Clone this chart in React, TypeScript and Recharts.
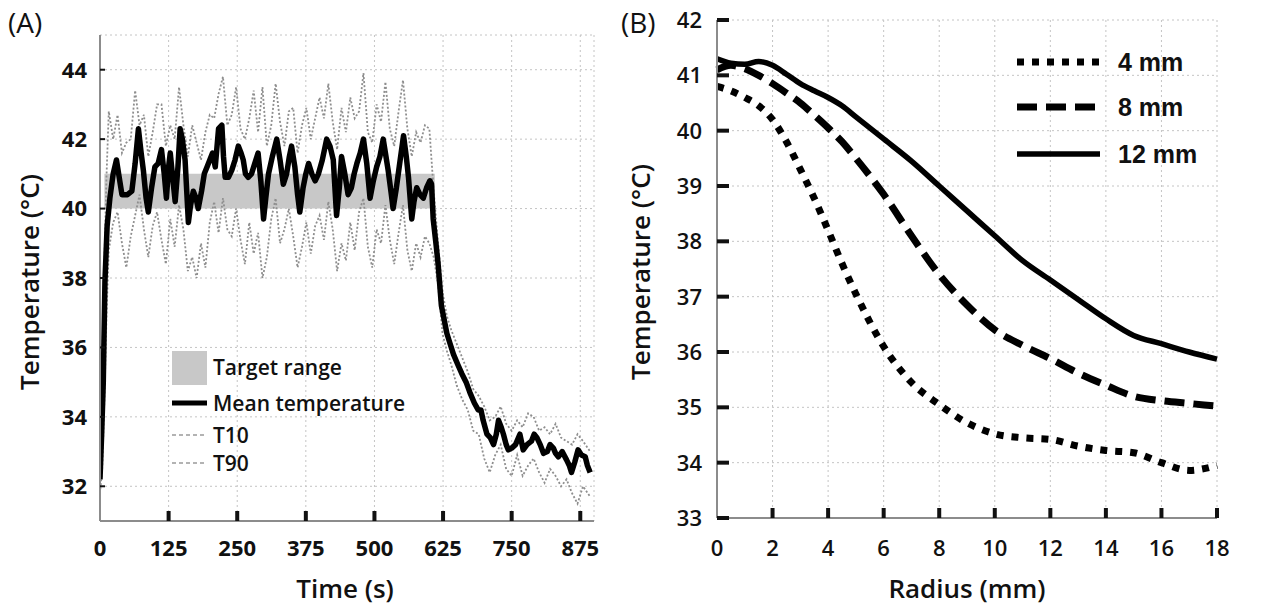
import { LineChart, Line, XAxis, YAxis, CartesianGrid, ReferenceArea } from "recharts";

const FONT = "'Open Sans', 'DejaVu Sans', sans-serif";

// ---- panel A: temperature over time ----
const TIME_TICKS = [0, 125, 250, 375, 500, 625, 750, 875];
const TEMP_TICKS_A = [32, 34, 36, 38, 40, 42, 44];
const TARGET_RANGE = [40, 41];
const TARGET_SPAN = [8, 610];

// [time (s), temperature (°C)]
const MEAN_TEMP: [number, number][] = [
  [0, 32.2], [3, 33.5], [6, 35.0], [9, 37.9], [13, 39.5], [18, 40.3], [24, 41.0], [30, 41.4],
  [35, 40.9], [40, 40.4], [50, 40.4], [58, 40.5], [64, 41.3], [70, 42.3], [75, 41.6], [79, 41.1],
  [84, 40.3], [88, 39.9], [94, 40.6], [100, 41.2], [106, 41.3], [112, 41.7], [117, 41.0], [121, 40.3],
  [125, 41.2], [128, 41.6], [133, 40.8], [137, 40.2], [142, 41.2], [146, 42.3], [150, 42.0], [155, 41.4],
  [158, 40.5], [161, 39.6], [165, 40.1], [170, 40.5], [175, 40.3], [179, 40.0], [185, 40.5], [190, 41.0],
  [195, 41.2], [200, 41.4], [205, 41.6], [210, 41.2], [216, 42.3], [222, 42.4], [225, 41.5], [228, 40.9],
  [234, 40.9], [240, 41.1], [246, 41.4], [252, 41.8], [257, 41.6], [261, 41.4], [265, 41.0], [270, 40.9],
  [276, 41.0], [282, 41.3], [288, 41.6], [293, 40.8], [298, 39.7], [302, 40.3], [307, 41.0], [314, 41.5],
  [322, 42.0], [328, 41.4], [334, 40.7], [340, 41.0], [345, 41.5], [349, 41.8], [355, 41.2], [360, 40.4],
  [364, 39.9], [370, 40.6], [375, 41.0], [380, 41.3], [386, 41.0], [392, 40.8], [398, 41.0], [405, 41.4],
  [413, 42.0], [419, 41.8], [425, 41.4], [431, 39.8], [436, 40.6], [440, 41.5], [446, 41.0], [452, 40.4],
  [458, 40.6], [463, 41.0], [468, 41.3], [474, 41.6], [480, 42.0], [486, 41.3], [492, 40.3], [498, 40.8],
  [504, 41.2], [510, 41.5], [516, 42.0], [520, 41.6], [525, 41.1], [530, 40.5], [534, 40.0], [540, 40.6],
  [546, 41.3], [553, 42.1], [558, 41.5], [562, 40.9], [568, 39.7], [572, 40.2], [577, 40.6], [583, 40.4],
  [589, 40.3], [595, 40.6], [601, 40.8], [604, 40.7], [607, 39.7], [612, 39.0], [616, 38.4], [622, 37.2],
  [627, 36.8], [632, 36.4], [638, 36.1], [644, 35.8], [652, 35.5], [659, 35.25], [667, 35.0], [674, 34.7],
  [682, 34.4], [689, 34.2], [694, 34.2], [698, 33.9], [705, 33.5], [711, 33.4], [717, 33.2], [722, 33.5],
  [726, 33.9], [731, 33.7], [735, 33.5], [740, 33.2], [744, 33.05], [750, 33.1], [757, 33.2], [765, 33.5],
  [771, 33.05], [778, 33.2], [786, 33.3], [791, 33.5], [796, 33.4], [802, 33.2], [808, 32.95], [815, 33.0],
  [820, 33.2], [826, 33.1], [830, 32.95], [835, 32.85], [842, 33.0], [850, 32.76], [855, 32.6], [859, 32.4],
  [865, 32.7], [871, 33.05], [877, 32.9], [884, 32.85], [888, 32.6], [893, 32.4],
];

const T90: [number, number][] = [
  [0, 32.6], [4, 35.5], [8, 38.5], [12, 41.0], [16, 42.8], [24, 42.0], [32, 42.7], [40, 41.6],
  [48, 41.9], [56, 42.0], [64, 43.4], [72, 42.4], [80, 42.7], [88, 41.5], [96, 42.2], [104, 43.0],
  [112, 43.0], [120, 41.8], [128, 42.4], [136, 42.0], [144, 43.5], [152, 42.4], [160, 41.5], [168, 42.4],
  [176, 41.9], [184, 41.4], [192, 42.2], [200, 42.7], [208, 42.6], [216, 43.3], [224, 43.8], [232, 42.4],
  [240, 42.7], [248, 43.5], [256, 42.3], [264, 42.0], [272, 42.6], [280, 43.4], [288, 42.2], [296, 43.5],
  [304, 41.8], [312, 42.4], [320, 43.6], [328, 42.5], [336, 41.8], [344, 42.8], [352, 42.9], [360, 41.6],
  [368, 42.4], [376, 42.9], [384, 42.0], [392, 42.6], [400, 43.2], [408, 42.6], [416, 43.6], [424, 42.5],
  [432, 41.7], [440, 42.9], [448, 42.2], [456, 43.2], [464, 42.6], [472, 42.8], [480, 43.9], [488, 42.2],
  [496, 41.9], [504, 43.0], [512, 42.5], [520, 43.65], [528, 42.3], [536, 41.8], [544, 42.8], [552, 43.7],
  [560, 42.3], [568, 41.5], [576, 42.2], [584, 41.9], [592, 42.4], [600, 42.3], [608, 40.5], [616, 39.0],
  [624, 37.6], [632, 36.9], [640, 36.5], [650, 36.1], [660, 35.7], [670, 35.3], [680, 34.8], [690, 34.6],
  [700, 34.3], [710, 33.9], [720, 34.0], [730, 34.3], [740, 33.8], [750, 33.6], [760, 33.9], [770, 33.7],
  [780, 34.1], [790, 34.0], [800, 33.6], [810, 33.7], [820, 33.5], [830, 33.8], [840, 33.4], [850, 33.3],
  [860, 33.2], [870, 33.5], [880, 33.3], [893, 33.0],
];

const T10: [number, number][] = [
  [0, 31.8], [4, 32.5], [8, 34.5], [12, 37.0], [16, 38.8], [24, 39.6], [32, 39.9], [40, 39.0],
  [48, 38.3], [56, 39.2], [64, 39.8], [72, 40.4], [80, 39.4], [88, 38.6], [96, 39.5], [104, 39.9],
  [112, 39.1], [120, 38.4], [128, 39.7], [136, 38.9], [144, 40.1], [152, 39.4], [160, 38.2], [168, 38.6],
  [176, 38.0], [184, 39.0], [192, 38.3], [200, 39.6], [208, 40.2], [216, 39.3], [224, 40.3], [232, 39.4],
  [240, 39.2], [248, 40.0], [256, 39.1], [264, 38.4], [272, 39.6], [280, 38.7], [288, 39.3], [296, 38.0],
  [304, 38.6], [312, 39.7], [320, 40.3], [328, 39.0], [336, 39.4], [344, 40.0], [352, 39.2], [360, 38.3],
  [368, 38.9], [376, 39.6], [384, 38.7], [392, 39.5], [400, 39.8], [408, 39.1], [416, 40.2], [424, 39.4],
  [432, 38.2], [440, 39.0], [448, 38.5], [456, 39.6], [464, 38.8], [472, 39.9], [480, 40.3], [488, 38.9],
  [496, 38.3], [504, 39.4], [512, 39.0], [520, 40.1], [528, 39.1], [536, 38.4], [544, 39.3], [552, 40.1],
  [560, 38.8], [568, 38.2], [576, 39.0], [584, 38.6], [592, 39.2], [600, 39.0], [608, 38.6], [616, 37.8],
  [624, 36.4], [632, 35.9], [640, 35.5], [650, 34.9], [660, 34.5], [670, 34.2], [680, 33.6], [690, 33.5],
  [700, 32.8], [710, 32.4], [720, 32.9], [730, 33.2], [740, 32.5], [750, 32.3], [760, 32.9], [770, 32.3],
  [780, 32.6], [790, 32.8], [800, 32.4], [810, 32.1], [820, 32.5], [830, 32.3], [840, 32.0], [850, 32.2],
  [860, 31.8], [870, 31.5], [880, 32.0], [893, 31.7],
];

// ---- panel B: temperature vs radius ----
const RADIUS = [0, 0.5, 1, 1.5, 2, 2.5, 3, 3.5, 4, 4.5, 5, 6, 7, 8, 9, 10, 11, 12, 13, 14, 15, 16, 17, 18];
const TEMP_4MM = [40.8, 40.72, 40.6, 40.45, 40.2, 39.8, 39.3, 38.78, 38.2, 37.6, 37.05, 36.1, 35.45, 35.05, 34.72, 34.52, 34.45, 34.42, 34.3, 34.22, 34.18, 34.0, 33.86, 33.95];
const TEMP_8MM = [41.1, 41.18, 41.12, 41.0, 40.85, 40.68, 40.5, 40.28, 40.05, 39.8, 39.5, 38.85, 38.1, 37.4, 36.85, 36.4, 36.12, 35.88, 35.62, 35.4, 35.2, 35.12, 35.07, 35.02];
const TEMP_12MM = [41.3, 41.22, 41.2, 41.25, 41.18, 41.02, 40.85, 40.72, 40.6, 40.45, 40.25, 39.85, 39.45, 39.0, 38.55, 38.1, 37.65, 37.3, 36.95, 36.6, 36.3, 36.15, 36.0, 35.87];
const RADIUS_TICKS = [0, 2, 4, 6, 8, 10, 12, 14, 16, 18];
const TEMP_TICKS_B = [33, 34, 35, 36, 37, 38, 39, 40, 41, 42];

const toPoints = (rows: [number, number][]) => rows.map(([t, v]) => ({ t, v }));
const profile = RADIUS.map((r, i) => ({ r, d4: TEMP_4MM[i], d8: TEMP_8MM[i], d12: TEMP_12MM[i] }));

type TickOpts = { len: number; width: number; gap: number; size: number; weight: number };

// ticks drawn inward from the axis, label outside
function xTick(o: TickOpts) {
  return (p: any) => (
    <g>
      {p.payload.value !== 0 && (
        <line x1={p.x} x2={p.x} y1={p.y} y2={p.y - o.len} stroke="#111" strokeWidth={o.width} />
      )}
      <text x={p.x} y={p.y + o.gap} textAnchor="middle" fontFamily={FONT} fontSize={o.size} fontWeight={o.weight} fill="#111">
        {p.payload.value}
      </text>
    </g>
  );
}

function yTick(o: TickOpts) {
  return (p: any) => (
    <g>
      <line x1={p.x} x2={p.x + o.len} y1={p.y} y2={p.y} stroke="#111" strokeWidth={o.width} />
      <text x={p.x - o.gap} y={p.y} dy="0.36em" textAnchor="end" fontFamily={FONT} fontSize={o.size} fontWeight={o.weight} fill="#111">
        {p.payload.value}
      </text>
    </g>
  );
}

const axisLine = { stroke: "#8c8c8c", strokeWidth: 2 };

export default function App() {
  return (
    <div style={{ position: "relative", width: 1262, height: 611, background: "#fff", fontFamily: FONT }}>
      <style>{"body{margin:0}"}</style>

      {/* Panel A */}
      <div style={{ position: "absolute", left: 0, top: 0 }}>
        <LineChart width={620} height={611} margin={{ top: 35, right: 26, left: 40, bottom: 50 }}>
          <CartesianGrid stroke="#c4c4c4" strokeDasharray="2 3" />
          <XAxis
            type="number"
            dataKey="t"
            domain={[0, 900]}
            ticks={TIME_TICKS}
            allowDataOverflow
            height={40}
            tickSize={0}
            tickMargin={0}
            axisLine={axisLine}
            tickLine={false}
            tick={xTick({ len: 10, width: 4, gap: 35, size: 22, weight: 700 })}
          />
          <YAxis
            type="number"
            domain={[31, 45]}
            ticks={TEMP_TICKS_A}
            allowDataOverflow
            width={60}
            tickSize={0}
            tickMargin={0}
            axisLine={axisLine}
            tickLine={false}
            tick={yTick({ len: 5, width: 2, gap: 13, size: 22, weight: 700 })}
          />
          <ReferenceArea x1={TARGET_SPAN[0]} x2={TARGET_SPAN[1]} y1={TARGET_RANGE[0]} y2={TARGET_RANGE[1]} fill="#c8c8c8" fillOpacity={1} stroke="none" />
          <Line data={toPoints(T90)} dataKey="v" type="linear" stroke="#8e8e8e" strokeWidth={1.8} strokeDasharray="2 2" dot={false} isAnimationActive={false} />
          <Line data={toPoints(T10)} dataKey="v" type="linear" stroke="#8e8e8e" strokeWidth={1.8} strokeDasharray="2 2" dot={false} isAnimationActive={false} />
          <Line data={toPoints(MEAN_TEMP)} dataKey="v" type="linear" stroke="#000" strokeWidth={5.5} strokeLinejoin="round" dot={false} isAnimationActive={false} />
        </LineChart>
      </div>

      {/* Panel B */}
      <div style={{ position: "absolute", left: 600, top: 0 }}>
        <LineChart data={profile} width={662} height={611} margin={{ top: 20, right: 45, left: 57, bottom: 53 }}>
          <CartesianGrid stroke="#c4c4c4" strokeDasharray="2 3" />
          <XAxis
            type="number"
            dataKey="r"
            domain={[0, 18]}
            ticks={RADIUS_TICKS}
            height={40}
            tickSize={0}
            tickMargin={0}
            axisLine={axisLine}
            tickLine={false}
            tick={xTick({ len: 10, width: 4, gap: 38, size: 22, weight: 600 })}
          />
          <YAxis
            type="number"
            domain={[33, 42]}
            ticks={TEMP_TICKS_B}
            width={60}
            tickSize={0}
            tickMargin={0}
            axisLine={axisLine}
            tickLine={false}
            tick={yTick({ len: 12, width: 4, gap: 15, size: 22, weight: 600 })}
          />
          <Line dataKey="d4" type="monotone" stroke="#000" strokeWidth={7} strokeDasharray="7 8" dot={false} isAnimationActive={false} />
          <Line dataKey="d8" type="monotone" stroke="#000" strokeWidth={7} strokeDasharray="20 9" dot={false} isAnimationActive={false} />
          <Line dataKey="d12" type="monotone" stroke="#000" strokeWidth={5.5} dot={false} isAnimationActive={false} />
        </LineChart>
      </div>

      {/* titles, panel labels and legends */}
      <svg width={1262} height={611} style={{ position: "absolute", left: 0, top: 0, pointerEvents: "none" }} fontFamily={FONT}>
        <text x={8} y={33} fontSize={28} fill="#111">(A)</text>
        <text x={621} y={33} fontSize={28} fill="#111">(B)</text>

        <text x={345} y={598} textAnchor="middle" fontSize={26} fontWeight={600} fill="#111">Time (s)</text>
        <text x={967} y={598} textAnchor="middle" fontSize={26} fontWeight={600} fill="#111">Radius (mm)</text>
        <text transform="translate(39,282) rotate(-90)" textAnchor="middle" fontSize={26} fontWeight={600} fill="#111">Temperature (°C)</text>
        <text transform="translate(650,272) rotate(-90)" textAnchor="middle" fontSize={26} fontWeight={600} fill="#111">Temperature (°C)</text>

        {/* legend A */}
        <rect x={172} y={351} width={35} height={34} fill="#c8c8c8" />
        <text x={213} y={375} fontSize={21} fontWeight={600} fill="#111">Target range</text>
        <line x1={172} x2={207} y1={403} y2={403} stroke="#000" strokeWidth={5} />
        <text x={213} y={411} fontSize={21} fontWeight={600} fill="#111">Mean temperature</text>
        <line x1={172} x2={207} y1={435} y2={435} stroke="#9a9a9a" strokeWidth={1.6} strokeDasharray="4 3" />
        <text x={213} y={443} fontSize={21} fontWeight={600} fill="#111">T10</text>
        <line x1={172} x2={207} y1={463} y2={463} stroke="#9a9a9a" strokeWidth={1.6} strokeDasharray="4 3" />
        <text x={213} y={471} fontSize={21} fontWeight={600} fill="#111">T90</text>

        {/* legend B */}
        <line x1={1017} x2={1100} y1={62} y2={62} stroke="#000" strokeWidth={7} strokeDasharray="7 8" />
        <text x={1118} y={71} fontSize={25} fontWeight={700} fontFamily="'Liberation Sans', Arial, sans-serif" fill="#111">4 mm</text>
        <line x1={1017} x2={1100} y1={107} y2={107} stroke="#000" strokeWidth={7} strokeDasharray="20 9" />
        <text x={1118} y={116} fontSize={25} fontWeight={700} fontFamily="'Liberation Sans', Arial, sans-serif" fill="#111">8 mm</text>
        <line x1={1017} x2={1100} y1={154} y2={154} stroke="#000" strokeWidth={5.5} />
        <text x={1118} y={163} fontSize={25} fontWeight={700} fontFamily="'Liberation Sans', Arial, sans-serif" fill="#111">12 mm</text>
      </svg>
    </div>
  );
}
